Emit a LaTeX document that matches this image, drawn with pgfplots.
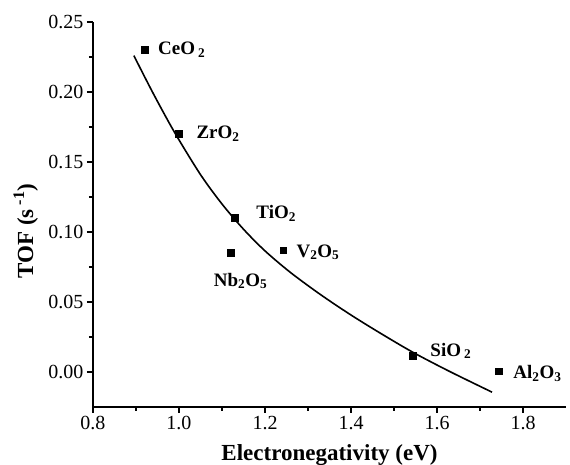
\documentclass[border=0pt]{standalone}
\usepackage{fontspec}
\setmainfont{Liberation Serif}
\usepackage{pgfplots}
\pgfplotsset{compat=1.18}

\newcommand{\lblfont}{\fontsize{19}{22}\selectfont\bfseries}
\newcommand{\axlblfont}{\fontsize{23}{26}\selectfont\bfseries}

\begin{document}
\begin{tikzpicture}
\useasboundingbox (-93pt,-58pt) rectangle (477pt,407pt);
\begin{axis}[
    scale only axis,
    width=473pt, height=385pt,
    xmin=0.8, xmax=1.9,
    ymin=-0.025, ymax=0.25,
    axis x line*=bottom, axis y line*=left,
    axis line style={line width=1.4pt, -},
    xtick={0.8,1.0,1.2,1.4,1.6,1.8}, minor x tick num=1,
    ytick={0,0.05,0.10,0.15,0.20,0.25}, minor y tick num=1,
    tick align=outside,
    major tick length=6pt, minor tick length=4pt,
    tick style={line width=1.2pt, black},
    /pgf/number format/assume math mode=true,
    x tick label style={/pgf/number format/.cd, fixed, fixed zerofill, precision=1},
    y tick label style={/pgf/number format/.cd, fixed, fixed zerofill, precision=2},
    ticklabel style={font=\fontsize{20}{22}\selectfont},
    xlabel={Electronegativity (eV)},
    ylabel={TOF (s\,\textsuperscript{-1})},
    label style={font=\axlblfont},
    xlabel style={at={(axis description cs:0.5,0)}, anchor=base, yshift=-54pt},
    ylabel style={at={(axis description cs:-0.142,0.457)}, anchor=center},
    clip=false,
]
% fitted curve
\addplot[smooth, line width=1.6pt, black] coordinates {
    (0.895,0.226) (0.94,0.199) (0.99,0.171) (1.05,0.141) (1.10,0.120)
    (1.15,0.102) (1.20,0.0865) (1.26,0.0709) (1.33,0.0551) (1.40,0.0407)
    (1.47,0.0274) (1.545,0.0139) (1.63,0.0003) (1.728,-0.0144)
};
% oxides
\addplot[only marks, mark=square*, mark size=3.3pt, black] coordinates {
    (0.92,0.230) (1.00,0.170) (1.13,0.110) (1.12,0.085)
    (1.242,0.087) (1.544,0.0115) (1.744,0.0005)
};
\node[font=\lblfont, anchor=west] at (axis cs:0.92,0.230) [xshift=10pt] {CeO\,\textsubscript{2}};
\node[font=\lblfont, anchor=west] at (axis cs:1.00,0.170) [xshift=14pt] {ZrO\textsubscript{2}};
\node[font=\lblfont, anchor=west] at (axis cs:1.13,0.110) [xshift=18pt, yshift=5pt] {TiO\textsubscript{2}};
\node[font=\lblfont, anchor=center] at (axis cs:1.12,0.085) [xshift=10pt, yshift=-28pt] {Nb\textsubscript{2}O\textsubscript{5}};
\node[font=\lblfont, anchor=west] at (axis cs:1.242,0.087) [xshift=10pt, yshift=-2pt] {V\textsubscript{2}O\textsubscript{5}};
\node[font=\lblfont, anchor=west] at (axis cs:1.544,0.0115) [xshift=14pt, yshift=5pt] {SiO\,\textsubscript{2}};
\node[font=\lblfont, anchor=west] at (axis cs:1.744,0.0005) [xshift=11pt, yshift=-2pt] {Al\textsubscript{2}O\textsubscript{3}};
\end{axis}
\end{tikzpicture}
\end{document}
